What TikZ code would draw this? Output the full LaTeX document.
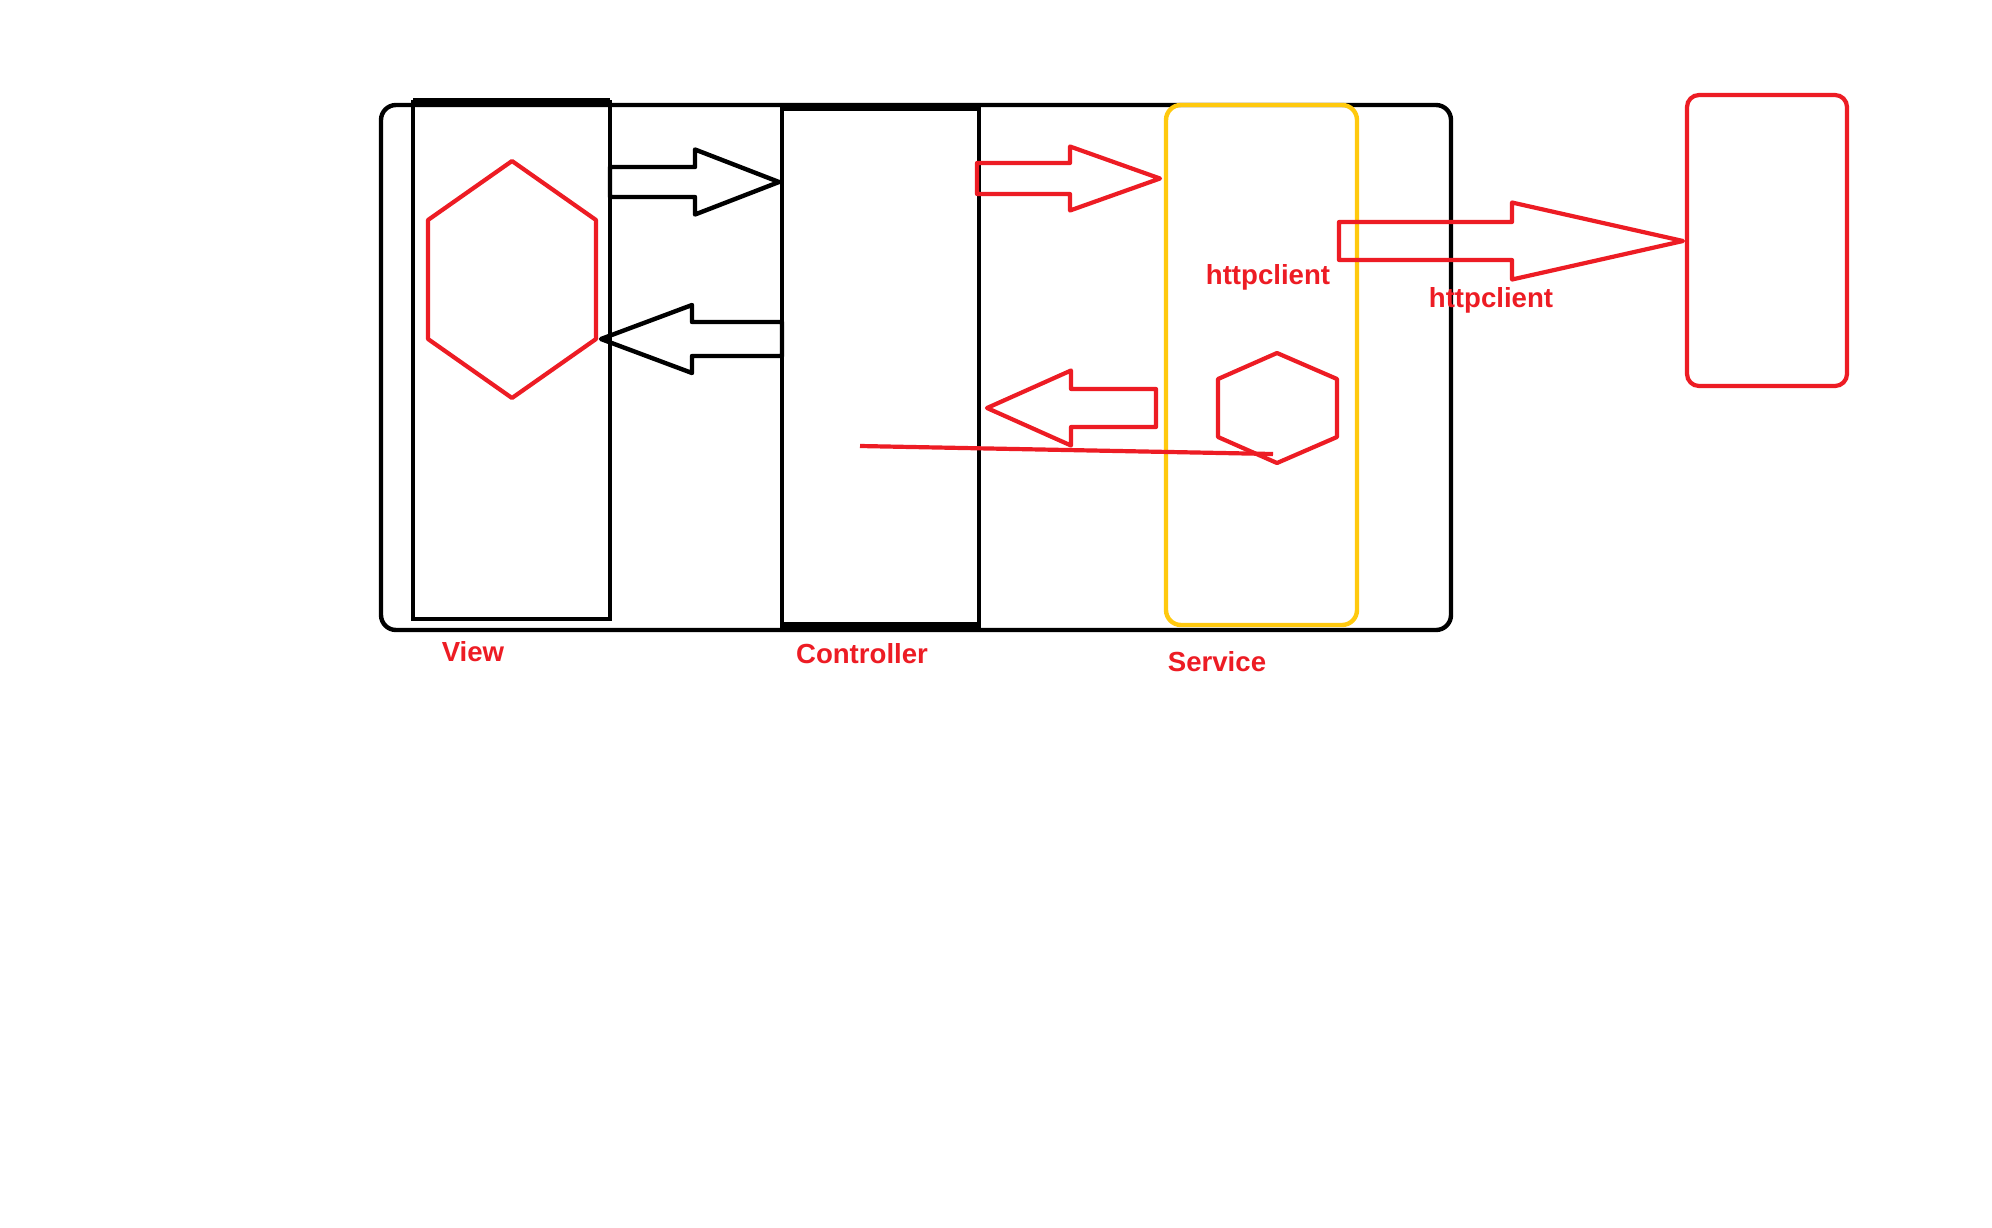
\documentclass[tikz,border=0pt]{standalone}
\usepackage{fontspec}
\setmainfont{Liberation Sans}
\usepackage{xcolor}
\usetikzlibrary{positioning}
\definecolor{paintRed}{HTML}{ED1C24}
\definecolor{paintGold}{HTML}{FFC90E}
% fat arrow: style, tail x, head base x, tip x, mid y, shaft half, head half
\newcommand{\blockarrow}[7]{%
  \draw[#1] (#2,#5-#6) -- (#3,#5-#6) -- (#3,#5-#7) -- (#4,#5)
    -- (#3,#5+#7) -- (#3,#5+#6) -- (#2,#5+#6) -- cycle;}

\begin{document}
\begin{tikzpicture}[x=0.5pt,y=-0.5pt,
  frame/.style={draw,line width=2.2pt,inner sep=0pt,outer sep=0pt},
  redline/.style={draw=paintRed,line width=2.1pt,line join=round},
  blackline/.style={draw=black,line width=2.2pt,line join=round},
  lbl/.style={text=paintRed,font=\fontsize{13.8}{16}\selectfont\bfseries}]
\useasboundingbox[fill=white] (0,0) rectangle (1992,1227);
\node[frame,rounded corners=7.5pt,minimum width=535pt,minimum height=262.5pt] (app) at (916,367.5) {};
\node[frame,minimum width=98.5pt,minimum height=258.5pt] (view) at (511.5,360.5) {};
\node[frame,minimum width=98.5pt,minimum height=258.5pt] (ctrl) at (880.5,367.5) {};
\node[frame,draw=paintGold,rounded corners=7.5pt,minimum width=95.5pt,minimum height=260pt] (svc) at (1261.5,365) {};
\node[frame,draw=paintRed,line width=2.1pt,rounded corners=6pt,minimum width=80pt,minimum height=145.5pt] (ext) at (1767,240.5) {};
\draw[line width=3.8pt] (view.north west) -- (view.north east);
\draw[line width=3.8pt] (ctrl.south west) -- (ctrl.south east);
% hexagons
\draw[redline] (512,161) -- (596,220) -- (596,339) -- (512,398) -- (428,339) -- (428,220) -- cycle;
\draw[redline] (1277,353) -- (1337,379) -- (1337,437) -- (1277,463) -- (1218,437) -- (1218,379) -- cycle;
% arrows
\blockarrow{blackline}{610}{695}{779}{182}{15}{32.5}
\blockarrow{blackline}{782}{692}{601}{339}{17}{34}
\blockarrow{redline}{977}{1070}{1160}{178.5}{15.5}{32}
\blockarrow{redline}{1156}{1071}{987}{408}{19}{37.5}
\blockarrow{redline}{1339}{1512}{1683}{241}{19}{38.5}
\coordinate (lineA) at (860,446);
\coordinate (lineB) at (1273,454);
\draw[redline] (lineA) -- (lineB);
% labels
\node[lbl] (viewlbl) at (473,652) {View};
\node[lbl] (ctrllbl) at (862,654) {Controller};
\node[lbl] (svclbl) at (1217,662) {Service};
\node[lbl] (httpA) at (1268,277) {httpclient};
\node[lbl] (httpB) at (1491,300) {httpclient};
\end{tikzpicture}
\end{document}
